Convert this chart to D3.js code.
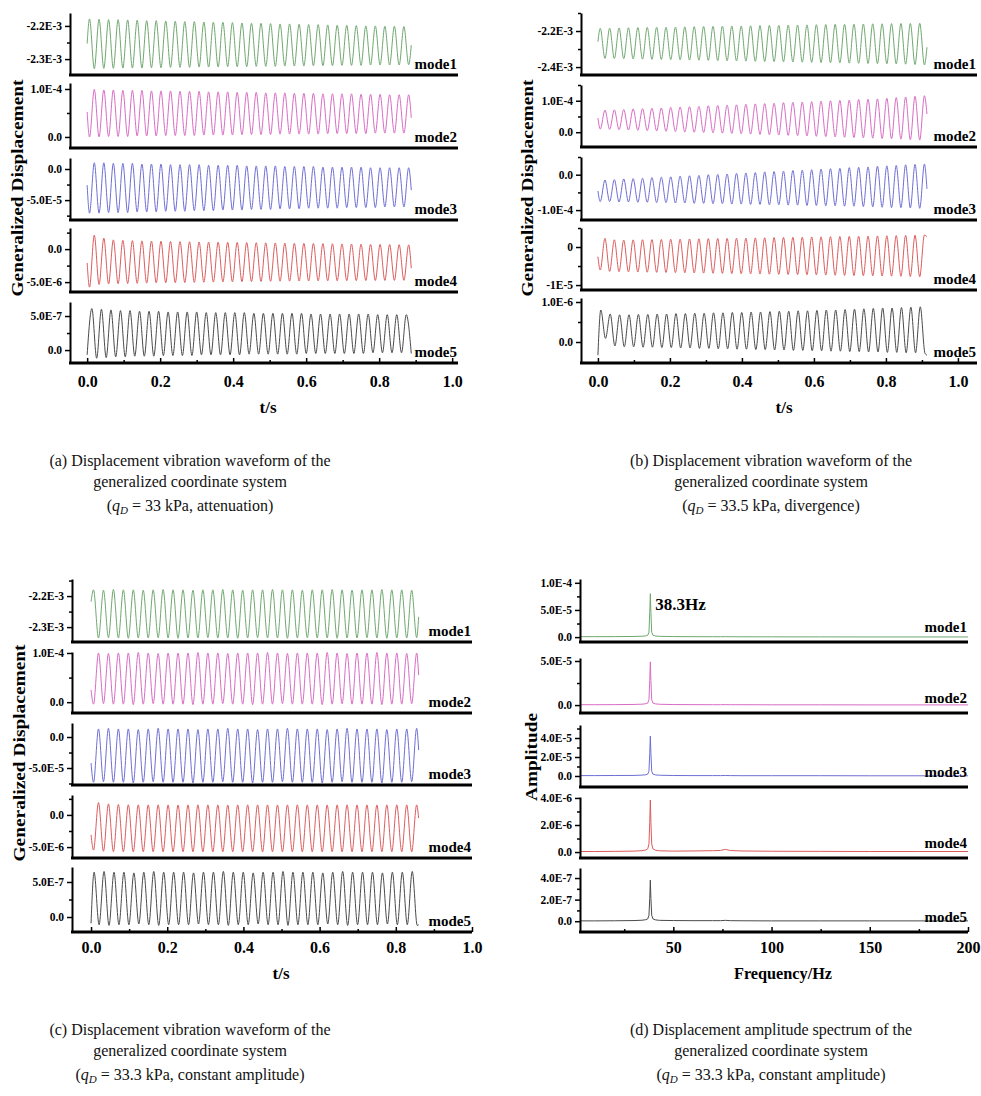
<!DOCTYPE html>
<html>
<head>
<meta charset="utf-8">
<script src="https://cdn.jsdelivr.net/npm/d3@7"></script>
<style>
  body { margin: 0; background: #fff; }
  svg { display: block; }
</style>
</head>
<body>
<svg id="chart" width="981" height="1096"></svg>
<script>
// ---------- data ----------
const modeNames = ["mode1", "mode2", "mode3", "mode4", "mode5"];
const timeTicks = [0, 0.2, 0.4, 0.6, 0.8, 1.0];
const timeMinor = [0.1, 0.3, 0.5, 0.7, 0.9];
const freqTicks = [50, 100, 150, 200];
const freqMinor = [25, 75, 125, 175];
const sampleStep = 0.01305; // time between successive extremes (38.3 Hz)

// (a) qD = 33 kPa, attenuation
const aTicks = [[-2.2e-3, -2.3e-3], [1e-4, 0], [0, -5e-5], [0, -5e-6], [5e-7, 0]];
const aTickLabels = [["-2.2E-3", "-2.3E-3"], ["1.0E-4", "0.0"], ["0.0", "-5.0E-5"], ["0.0", "-5.0E-6"], ["5.0E-7", "0.0"]];
const aMinor = [[-2.25e-3], [5e-5], [-2.5e-5, -7.5e-5], [2.5e-6, -2.5e-6], [2.5e-7]];
const aUnit = [1e-6, 1e-6, 1e-6, 1e-8, 1e-8];
const aStart = [-2253, 52, -26, -210, -7];
const aEnd = [-2258, 40, -34, -290, -5];
const aFirst = [0.0065, 0.0065, 0.0065, 0.0065, 0.013];
const aUpFirst = [true, false, false, false, true];
const aEndTime = 0.888;
const aPeaks = [
  [-2179,-2180,-2181,-2181,-2182,-2183,-2184,-2184,-2185,-2186,-2187,-2187,-2188,-2189,-2189,-2190,-2191,-2192,-2192,-2193,-2194,-2194,-2195,-2196,-2196,-2197,-2198,-2198,-2199,-2200,-2200,-2201,-2201,-2202],
  [99,98,98,97,97,97,96,96,96,95,95,95,94,94,94,93,93,93,92,92,92,91,91,91,90,90,90,90,89,89,89,88,88,88],
  [10,10,9,9,9,8,8,8,7,7,7,7,6,6,6,6,5,5,5,5,4,4,4,4,3,3,3,3,3,2,2,2,2,2],
  [212,167,140,132,128,125,122,119,116,113,111,109,107,105,103,101,99,97,95,93,91,89,87,85,83,81,79,77,75,73,71,69,67,65],
  [61,60,59,58,58,57,57,57,56,56,56,56,55,55,55,55,55,54,54,54,54,54,54,53,53,53,53,53,53,53,52,52,52,52]
];
const aTroughs = [
  [-2329,-2328,-2328,-2327,-2327,-2327,-2326,-2326,-2325,-2325,-2325,-2324,-2324,-2324,-2323,-2323,-2323,-2322,-2322,-2322,-2321,-2321,-2321,-2320,-2320,-2320,-2319,-2319,-2319,-2318,-2318,-2318,-2318,-2317],
  [0,0,1,1,1,2,2,2,3,3,3,3,4,4,4,4,5,5,5,5,6,6,6,6,6,7,7,7,7,7,8,8,8,8],
  [-71,-71,-70,-70,-70,-69,-69,-69,-68,-68,-68,-67,-67,-67,-66,-66,-66,-65,-65,-65,-64,-64,-64,-63,-63,-63,-63,-62,-62,-62,-62,-61,-61,-61],
  [-576,-535,-528,-524,-521,-518,-515,-512,-510,-508,-506,-504,-502,-500,-498,-496,-494,-492,-490,-488,-486,-485,-484,-483,-482,-481,-480,-479,-478,-477,-476,-475,-474,-473],
  [-12,-11,-10,-10,-9,-9,-9,-8,-8,-8,-8,-7,-7,-7,-7,-7,-6,-6,-6,-6,-6,-6,-5,-5,-5,-5,-5,-5,-5,-4,-4,-4,-4,-4]
];

// (b) qD = 33.5 kPa, divergence
const bTicks = [[-2.2e-3, -2.4e-3], [1e-4, 0], [0, -1e-4], [0, -1e-5], [1e-6, 0]];
const bTickLabels = [["-2.2E-3", "-2.4E-3"], ["1.0E-4", "0.0"], ["0.0", "-1.0E-4"], ["0", "-1E-5"], ["1.0E-6", "0.0"]];
const bMinor = [[-2.1e-3, -2.3e-3], [1.5e-4, 5e-5], [5e-5, -5e-5], [5e-6, -5e-6], [5e-7]];
const bUnit = [1e-6, 1e-6, 1e-6, 1e-8, 1e-8];
const bStart = [-2259, 45, -46, -255, -33];
const bEnd = [-2290, 58, -40, 271, -33];
const bFirst = [0.0065, 0.0065, 0.0065, 0.0065, 0.008];
const bUpFirst = [true, false, false, false, true];
const bEndTime = 0.914;
const bPeaks = [
  [-2185,-2184,-2183,-2182,-2181,-2180,-2179,-2179,-2178,-2177,-2176,-2175,-2174,-2173,-2172,-2172,-2171,-2170,-2169,-2168,-2167,-2167,-2166,-2165,-2164,-2163,-2163,-2162,-2161,-2160,-2160,-2159,-2158,-2158,-2157],
  [70,71,72,74,75,76,77,79,80,81,82,84,85,86,87,89,90,91,92,94,95,96,97,99,100,101,102,104,105,106,108,110,112,114,116],
  [-15,-14,-12,-11,-10,-8,-7,-6,-4,-3,-2,0,1,2,4,5,6,8,9,10,12,13,14,16,17,18,20,21,22,24,25,26,28,29,30],
  [229,190,184,188,192,196,200,204,208,212,216,220,224,228,232,236,240,244,248,252,256,260,264,268,272,276,280,284,288,292,296,300,305,310,316],
  [80,70,68,68,69,69,70,70,71,71,72,72,73,73,74,74,75,75,76,77,77,78,78,79,80,80,81,82,83,84,85,85,86,87,88]
];
const bTroughs = [
  [-2352,-2353,-2354,-2355,-2356,-2357,-2358,-2359,-2360,-2361,-2362,-2363,-2364,-2365,-2366,-2367,-2368,-2369,-2370,-2371,-2372,-2373,-2374,-2375,-2376,-2377,-2378,-2379,-2380,-2381,-2382,-2383,-2384,-2386,-2388],
  [10,9,8,7,6,5,4,3,2,1,0,-1,-2,-3,-4,-5,-6,-7,-8,-9,-10,-11,-12,-13,-14,-15,-16,-17,-18,-19,-20,-21,-22,-24,-25],
  [-76,-76,-77,-77,-78,-78,-79,-79,-80,-80,-81,-81,-82,-82,-83,-83,-84,-84,-85,-85,-86,-86,-87,-87,-88,-88,-89,-89,-90,-91,-92,-93,-93,-94,-95],
  [-605,-640,-650,-654,-658,-662,-666,-670,-674,-678,-682,-686,-690,-694,-698,-702,-706,-710,-714,-718,-722,-726,-730,-734,-738,-742,-746,-750,-754,-758,-762,-766,-770,-776,-782],
  [9,-10,-12,-12,-13,-13,-14,-14,-15,-15,-16,-16,-17,-17,-18,-18,-19,-19,-20,-20,-21,-21,-22,-22,-23,-23,-24,-24,-25,-25,-26,-26,-27,-27,-28]
];

// (c) qD = 33.3 kPa, constant amplitude
const cTicks = aTicks;
const cTickLabels = aTickLabels;
const cMinor = [[-2.15e-3, -2.25e-3], [5e-5], [-2.5e-5, -7.5e-5], [2.5e-6, -2.5e-6], [2.5e-7]];
const cUnit = [1e-6, 1e-6, 1e-6, 1e-8, 1e-8];
const cStart = [-2218, 25, -42, -310, -9];
const cEnd = [-2267, 55, -21, -50, -11];
const cFirst = [0.0065, 0.0065, 0.0065, 0.0065, 0.008];
const cUpFirst = [true, false, false, false, true];
const cEndTime = 0.86;
const cPeaks = [
  [-2180,-2181,-2179,-2180,-2180,-2181,-2180,-2179,-2180,-2180,-2181,-2180,-2180,-2179,-2180,-2181,-2180,-2180,-2179,-2180,-2180,-2181,-2180,-2180,-2179,-2180,-2181,-2180,-2180,-2179,-2180,-2180,-2181],
  [100,99,100,100,101,100,99,100,100,100,101,100,100,99,100,100,100,101,100,99,100,100,100,101,100,99,100,100,101,100,100,99,100],
  [13,14,13,13,12,13,14,13,13,13,12,13,13,14,13,13,12,13,13,14,13,13,13,12,13,14,13,13,13,12,13,13,14],
  [192,172,162,158,157,156,157,156,155,156,157,156,156,155,156,157,156,156,155,156,157,156,156,155,156,157,156,156,155,156,157,156,156],
  [64,65,64,64,63,64,65,64,64,64,63,64,64,65,64,64,63,64,64,65,64,64,64,63,64,65,64,64,64,63,64,64,65]
];
const cTroughs = [
  [-2335,-2334,-2335,-2336,-2335,-2335,-2334,-2335,-2336,-2335,-2335,-2334,-2335,-2335,-2336,-2335,-2334,-2335,-2335,-2336,-2335,-2334,-2335,-2335,-2336,-2335,-2335,-2334,-2335,-2336,-2335,-2335,-2334],
  [-4,-3,-4,-4,-5,-4,-3,-4,-4,-4,-5,-4,-4,-3,-4,-4,-5,-4,-4,-3,-4,-4,-4,-5,-4,-3,-4,-4,-4,-5,-4,-4,-3],
  [-73,-72,-73,-73,-74,-73,-72,-73,-73,-73,-74,-73,-73,-72,-73,-73,-74,-73,-73,-72,-73,-73,-73,-74,-73,-72,-73,-73,-73,-74,-73,-73,-72],
  [-547,-565,-570,-572,-573,-572,-573,-574,-573,-572,-573,-573,-574,-573,-572,-573,-573,-574,-573,-572,-573,-573,-574,-573,-572,-573,-573,-574,-573,-572,-573,-573,-574],
  [-11,-12,-11,-11,-10,-11,-12,-11,-11,-11,-10,-11,-11,-12,-11,-11,-10,-11,-11,-12,-11,-11,-11,-10,-11,-12,-11,-11,-11,-10,-11,-11,-12]
];

// (d) amplitude spectrum, qD = 33.3 kPa
const dFreq = [2.5,10,20,30,34,36,37,37.6,38.0,38.3,38.6,39.0,39.6,41,43,50,60,70,74,76.6,79,85,100,125,150,175,200];
const dUnit = [1e-6, 1e-6, 1e-6, 1e-8, 1e-9];
const dAmp = [
  [0.8,0.8,0.9,1.2,1.6,2.3,3.5,9,45,80,45,9,3.5,2.0,1.4,1.0,0.8,0.7,0.7,0.8,0.7,0.6,0.5,0.4,0.3,0.3,0.3],
  [0.4,0.4,0.5,0.7,1.0,1.5,2.3,6,28,49,28,6,2.3,1.3,0.9,0.6,0.5,0.4,0.4,0.5,0.4,0.4,0.3,0.3,0.2,0.2,0.2],
  [0.4,0.4,0.5,0.6,0.9,1.3,2,5,24,42,24,5,2,1.1,0.8,0.5,0.4,0.4,0.4,0.5,0.4,0.3,0.3,0.3,0.2,0.2,0.2],
  [4,4,5,7,10,15,24,60,220,385,220,60,24,13,9,7,8,10,12,20,11,8,6,5,4,4,4],
  [3,3,4,6,9,14,22,55,210,380,210,55,22,12,8,6,5,5,5,8,5,4,3,3,3,3,3]
];
const dTicks = [[0, 5e-5, 1e-4], [0, 5e-5], [0, 2e-5, 4e-5], [0, 2e-6, 4e-6], [0, 2e-7, 4e-7]];
const dTickLabels = [["0.0", "5.0E-5", "1.0E-4"], ["0.0", "5.0E-5"], ["0.0", "2.0E-5", "4.0E-5"], ["0.0", "2.0E-6", "4.0E-6"], ["0.0", "2.0E-7", "4.0E-7"]];
const dMinor = [[2.5e-5, 7.5e-5], [2.5e-5], [1e-5, 3e-5, 5e-5], [1e-6, 3e-6], [1e-7, 3e-7]];
const peakLabel = "38.3Hz";

const captionA = ["(a) Displacement vibration waveform of the", "generalized coordinate system", " = 33 kPa, attenuation)"];
const captionB = ["(b) Displacement vibration waveform of the", "generalized coordinate system", " = 33.5 kPa, divergence)"];
const captionC = ["(c) Displacement vibration waveform of the", "generalized coordinate system", " = 33.3 kPa, constant amplitude)"];
const captionD = ["(d) Displacement amplitude spectrum of the", "generalized coordinate system", " = 33.3 kPa, constant amplitude)"];

// ---------- drawing ----------
const modeColors = ["#6fa86f", "#d86cc4", "#6e6ed4", "#dc5c5c", "#4a4a4a"];
const serif = '"Liberation Serif", "Times New Roman", serif';
const svg = d3.select("#chart");

function wavePoints(w, k) {
  const n = w.peaks[k].length + w.troughs[k].length;
  const ext = [];
  for (let i = 0; i < n; i++) {
    const up = (i % 2 === 0) === w.upFirst[k];
    const v = up ? w.peaks[k][i >> 1] : w.troughs[k][i >> 1];
    ext.push([w.first[k] + i * sampleStep, v]);
  }
  const pts = [[0, w.start[k]]]
    .concat(ext.filter(d => d[0] < w.endTime - 0.003))
    .concat([[w.endTime, w.end[k]]]);
  return pts.map(d => [d[0], d[1] * w.unit[k]]);
}

const aWave = { peaks: aPeaks, troughs: aTroughs, start: aStart, end: aEnd, first: aFirst, upFirst: aUpFirst, unit: aUnit, endTime: aEndTime };
const bWave = { peaks: bPeaks, troughs: bTroughs, start: bStart, end: bEnd, first: bFirst, upFirst: bUpFirst, unit: bUnit, endTime: bEndTime };
const cWave = { peaks: cPeaks, troughs: cTroughs, start: cStart, end: cEnd, first: cFirst, upFirst: cUpFirst, unit: cUnit, endTime: cEndTime };

const panels = [
  {
    left: 70, right: 458, xDomain: [-0.047, 1.016],
    rows: [[13, 75], [83, 148], [158, 220], [228, 292], [302, 363]],
    yDomains: [[-2.348e-3, -2.161e-3], [-0.23e-4, 1.125e-4], [-8.2e-5, 1.77e-5], [-6.5e-6, 3.2e-6], [-1.9e-7, 7.06e-7]],
    ticks: aTicks, labels: aTickLabels, minor: aMinor,
    series: k => wavePoints(aWave, k), curve: d3.curveMonotoneX,
    xTicks: timeTicks, xMinor: timeMinor, xFormat: d3.format(".1f"), labelPad: 13, modeDy: 6,
    title: "Generalized Displacement", titleX: 17, titleY: 188, titleLen: 217,
    xTitle: "t/s", xTitleX: 268, xTitleY: 413
  },
  {
    left: 581, right: 977, xDomain: [-0.047, 1.053],
    rows: [[13, 75], [85, 147], [157, 220], [228, 290], [298, 363]],
    yDomains: [[-2.444e-3, -2.1e-3], [-0.47e-4, 1.5e-4], [-1.28e-4, 0.5e-4], [-1.13e-5, 0.5e-5], [-0.525e-6, 1.1e-6]],
    ticks: bTicks, labels: bTickLabels, minor: bMinor,
    series: k => wavePoints(bWave, k), curve: d3.curveMonotoneX,
    xTicks: timeTicks, xMinor: timeMinor, xFormat: d3.format(".1f"), labelPad: 13, modeDy: 6,
    title: "Generalized Displacement", titleX: 527, titleY: 188, titleLen: 217,
    xTitle: "t/s", xTitleX: 784, xTitleY: 413
  },
  {
    left: 72, right: 472, xDomain: [-0.05, 1.0],
    rows: [[579, 642], [652, 713], [723, 785], [795, 858], [867, 932]],
    yDomains: [[-2.348e-3, -2.145e-3], [-0.22e-4, 1.02e-4], [-7.74e-5, 2.26e-5], [-6.7e-6, 3.1e-6], [-2.14e-7, 7.14e-7]],
    ticks: cTicks, labels: cTickLabels, minor: cMinor,
    series: k => wavePoints(cWave, k), curve: d3.curveMonotoneX,
    xTicks: timeTicks, xMinor: timeMinor, xFormat: d3.format(".1f"), labelPad: 10, modeDy: 6,
    title: "Generalized Displacement", titleX: 19, titleY: 753, titleLen: 217,
    xTitle: "t/s", xTitleX: 281, xTitleY: 979
  },
  {
    left: 580, right: 968, xDomain: [2.5, 200],
    rows: [[579, 642], [658, 713], [725, 787], [797, 858], [868, 932]],
    yDomains: [[-0.09e-4, 1.07e-4], [-0.9e-5, 5.34e-5], [-1.16e-5, 5.37e-5], [-0.44e-6, 4.07e-6], [-1.0e-7, 4.93e-7]],
    ticks: dTicks, labels: dTickLabels, minor: dMinor,
    series: k => dFreq.map((f, i) => [f, dAmp[k][i] * dUnit[k]]), curve: d3.curveLinear,
    xTicks: freqTicks, xMinor: freqMinor, xFormat: d3.format("d"), labelPad: 10, modeDy: 10,
    title: "Amplitude", titleX: 531, titleY: 757, titleLen: 88,
    xTitle: "Frequency/Hz", xTitleX: 783, xTitleY: 979, xTitleLen: 98
  }
];

function styleAxis(g, size) {
  g.attr("font-family", serif);
  g.selectAll("text").attr("font-size", size).attr("font-weight", "bold").attr("fill", "#000");
  g.selectAll("line").attr("stroke", "#000").attr("stroke-width", 1.5);
}

panels.forEach((p, pi) => {
  const g = svg.append("g");
  const x = d3.scaleLinear().domain(p.xDomain).range([p.left, p.right]);

  p.rows.forEach((row, k) => {
    const [top, bottom] = row;
    const y = d3.scaleLinear().domain(p.yDomains[k]).range([bottom, top]);

    g.append("path")
      .datum(p.series(k))
      .attr("fill", "none")
      .attr("stroke", modeColors[k])
      .attr("stroke-width", 1)
      .attr("d", d3.line().x(d => x(d[0])).y(d => y(d[1])).curve(p.curve));

    const minorAxis = g.append("g")
      .attr("transform", `translate(${p.left},0)`)
      .call(d3.axisLeft(y).tickValues(p.minor[k]).tickSize(3).tickSizeOuter(0).tickFormat(""));
    minorAxis.select(".domain").remove();
    styleAxis(minorAxis, 11.5);

    const yAxis = g.append("g")
      .attr("transform", `translate(${p.left},0)`)
      .call(d3.axisLeft(y).tickValues(p.ticks[k]).tickSize(5).tickSizeOuter(0).tickPadding(3)
        .tickFormat(d => p.labels[k][p.ticks[k].indexOf(d)]));
    styleAxis(yAxis, 11.5);
    yAxis.select(".domain").attr("stroke", "#000").attr("stroke-width", 2);

    g.append("line")
      .attr("x1", p.left - 1).attr("x2", p.right)
      .attr("y1", bottom).attr("y2", bottom)
      .attr("stroke", "#000").attr("stroke-width", 3);

    g.append("text")
      .attr("x", p.right - 1).attr("y", bottom - p.modeDy)
      .attr("text-anchor", "end")
      .attr("font-family", serif).attr("font-weight", "bold").attr("font-size", 15)
      .text(modeNames[k]);

    if (pi === 3 && k === 0) {
      g.append("text")
        .attr("x", x(dFreq[9]) + 5).attr("y", 610)
        .attr("font-family", serif).attr("font-weight", "bold").attr("font-size", 17)
        .text(peakLabel);
    }
  });

  const last = p.rows[p.rows.length - 1][1];
  const xMinorAxis = g.append("g")
    .attr("transform", `translate(0,${last})`)
    .call(d3.axisBottom(x).tickValues(p.xMinor).tickSize(-3).tickSizeOuter(0).tickFormat(""));
  xMinorAxis.select(".domain").remove();
  styleAxis(xMinorAxis, 16);
  const xAxis = g.append("g")
    .attr("transform", `translate(0,${last})`)
    .call(d3.axisBottom(x).tickValues(p.xTicks).tickSize(-5).tickSizeOuter(0).tickPadding(p.labelPad).tickFormat(p.xFormat));
  xAxis.select(".domain").remove();
  styleAxis(xAxis, 16);

  const xt = g.append("text")
    .attr("x", p.xTitleX).attr("y", p.xTitleY)
    .attr("text-anchor", "middle")
    .attr("font-family", serif).attr("font-weight", "bold").attr("font-size", 17)
    .text(p.xTitle);
  if (p.xTitleLen) xt.attr("textLength", p.xTitleLen).attr("lengthAdjust", "spacingAndGlyphs");

  g.append("text")
    .attr("transform", `translate(${p.titleX},${p.titleY}) rotate(-90)`)
    .attr("text-anchor", "middle")
    .attr("dy", "0.35em")
    .attr("font-family", serif).attr("font-weight", "bold").attr("font-size", 17)
    .attr("textLength", p.titleLen).attr("lengthAdjust", "spacingAndGlyphs")
    .text(p.title);
});

// captions
const captions = [
  { x: 190, y: 466, lines: captionA },
  { x: 771, y: 466, lines: captionB },
  { x: 190, y: 1035, lines: captionC },
  { x: 771, y: 1035, lines: captionD }
];
captions.forEach(c => {
  const g = svg.append("g").attr("font-family", serif).attr("font-size", 16).attr("fill", "#111");
  g.append("text").attr("x", c.x).attr("y", c.y).attr("text-anchor", "middle").text(c.lines[0]);
  g.append("text").attr("x", c.x).attr("y", c.y + 21).attr("text-anchor", "middle").text(c.lines[1]);
  const t = g.append("text").attr("x", c.x).attr("y", c.y + 45).attr("text-anchor", "middle");
  t.append("tspan").text("(");
  t.append("tspan").attr("font-style", "italic").text("q");
  t.append("tspan").attr("font-style", "italic").attr("font-size", 11).attr("dy", 3).text("D");
  t.append("tspan").attr("dy", -3).text(c.lines[2]);
});
</script>
</body>
</html>
